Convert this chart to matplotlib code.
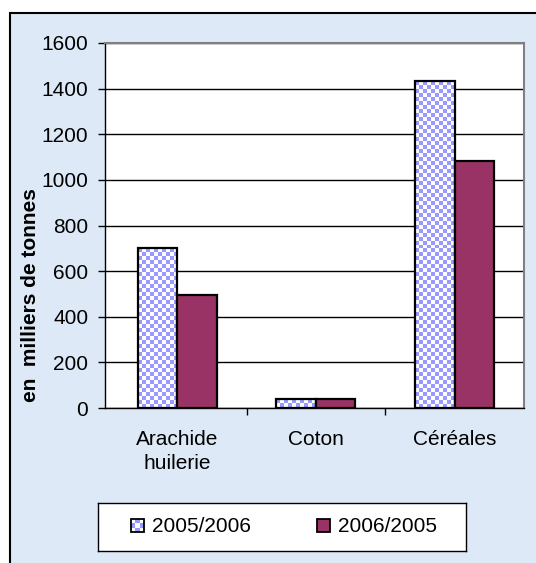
import matplotlib
import matplotlib.pyplot as plt
import numpy as np
from matplotlib.patches import Rectangle

matplotlib.use('Agg')

# data
categories = ['Arachide\nhuilerie', 'Coton', 'Céréales']
series_names = ['2005/2006', '2006/2005']
values_0506 = [700, 40, 1432]
values_0605 = [495, 38, 1083]
y_ticks = [0, 200, 400, 600, 800, 1000, 1200, 1400, 1600]

W, H = 536, 563
BG = '#dde9f6'
CHECK_BLUE = '#9999ff'
MAROON = '#993366'

plt.rcParams['font.family'] = ['Liberation Sans', 'DejaVu Sans']

fig = plt.figure(figsize=(W / 100, H / 100), dpi=100)
fig.patch.set_facecolor('white')

# outer frame with light blue background
frame = Rectangle((10 / W, -0.1), 1.2, (H - 13) / H + 0.1, transform=fig.transFigure,
                  facecolor=BG, edgecolor='black', lw=1.5, zorder=-1)
fig.add_artist(frame)


def fig_box(left, top, right, bottom):
    return [left / W, 1 - bottom / H, (right - left) / W, (bottom - top) / H]


def checker(nrows, ncols):
    i, j = np.indices((nrows, ncols))
    return (i + j) % 2


ax = fig.add_axes(fig_box(105, 43, 524, 408))
ax.set_facecolor('white')

x = np.arange(len(categories))
w = 0.285
bars1 = ax.bar(x - w / 2, values_0506, w, facecolor='none', edgecolor='black', lw=1.6, zorder=3)
bars2 = ax.bar(x + w / 2, values_0605, w, facecolor=MAROON, edgecolor='black', lw=1.6, zorder=3)

cmap = matplotlib.colors.ListedColormap(['white', CHECK_BLUE])
for b in bars1:
    h = b.get_height()
    nrows = max(1, int(round(h / 17.5)))
    img = ax.imshow(checker(nrows, 10), cmap=cmap, vmin=0, vmax=1, aspect='auto',
                    interpolation='nearest', origin='lower',
                    extent=(b.get_x(), b.get_x() + b.get_width(), 0, h), zorder=2)
    img.set_clip_path(b)

ax.set_xlim(-0.52, 2.5)
ax.set_ylim(0, 1600)
ax.set_yticks(y_ticks)
ax.yaxis.grid(True, color='black', lw=1)
ax.set_axisbelow(True)

ax.set_xticks(x)
ax.set_xticklabels(categories, fontsize=15, linespacing=1.3)
ax.tick_params(axis='x', length=0, pad=16)
ax.set_xticks([0.5, 1.5], minor=True)
ax.tick_params(axis='x', which='minor', length=5, width=1, direction='out')
ax.tick_params(axis='y', labelsize=15, length=5, width=1, pad=7)

for s in ['top', 'right']:
    ax.spines[s].set_color('#808080')
    ax.spines[s].set_linewidth(1.5)
for s in ['left', 'bottom']:
    ax.spines[s].set_color('black')
    ax.spines[s].set_linewidth(1)

fig.text(31 / W, 1 - 295 / H, 'en  milliers de tonnes', rotation=90, ha='center',
         va='center', fontsize=15, fontweight='bold')

# legend box
lax = fig.add_axes(fig_box(98, 503, 466, 551))
lax.set_xticks([])
lax.set_yticks([])
lax.set_facecolor('white')
for s in lax.spines.values():
    s.set_linewidth(1)
    s.set_color('black')

lx = [131, 317]
for k, name in enumerate(series_names):
    sq = Rectangle((lx[k], 519), 13, 13, facecolor=MAROON if k else 'none',
                   edgecolor='black', lw=1.3, zorder=3)
    lax.add_patch(sq)
    if k == 0:
        im = lax.imshow(checker(3, 3), cmap=cmap, vmin=0, vmax=1, aspect='auto',
                        interpolation='nearest', extent=(lx[k], lx[k] + 13, 532, 519), zorder=2)
        im.set_clip_path(sq)
    lax.text(lx[k] + 21, 526, name, fontsize=15, va='center', ha='left')
lax.set_xlim(98, 466)
lax.set_ylim(551, 503)

fig.savefig('out.png', dpi=100)
